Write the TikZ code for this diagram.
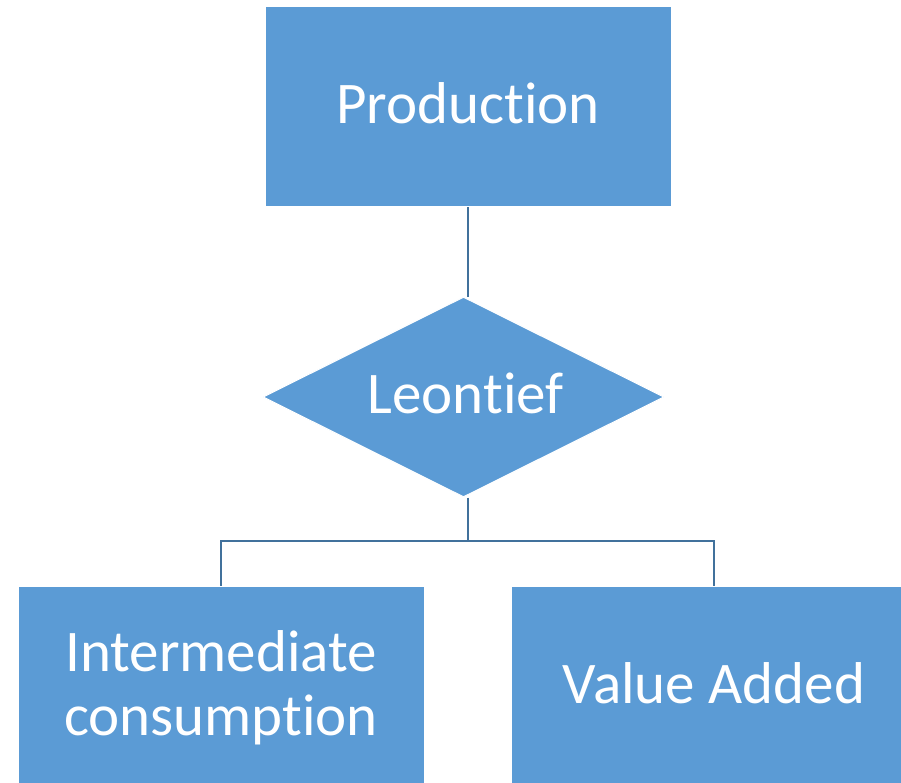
\documentclass[tikz,border=0pt]{standalone}
\usepackage{fontspec}
\setmainfont[RawFeature={-liga}]{Carlito}
\usetikzlibrary{shapes.geometric}
\definecolor{boxblue}{HTML}{5B9BD5}
\definecolor{linkblue}{HTML}{41719C}
\tikzset{
  block/.style={rectangle, fill=boxblue, draw=white, line width=1pt, inner sep=0pt,
    minimum width=406pt, minimum height=200pt},
  decision/.style={diamond, fill=boxblue, draw=white, line width=1pt, inner sep=0pt,
    minimum width=401pt, minimum height=200pt},
  label text/.style={text=white, font=\fontsize{59}{64}\selectfont, inner sep=0pt, anchor=base},
  link/.style={draw=linkblue, line width=2.2pt}
}
\begin{document}
\begin{tikzpicture}[x=1pt, y=-1pt]
  \clip (0,0) rectangle (901,783);
  \fill[white] (0,0) rectangle (901,783);

  % shapes
  \node[block] (prod) at (468,107) {};
  \node[decision] (leon) at (463.5,397) {};
  \node[block] (ic) at (221,686) {};
  \node[block] (va) at (714,686) {};

  % texts
  \node[label text] (prodtext) at (468,124) {Production};
  \node[label text] (leontext) at (465.5,413) {Leontief};
  \node[label text] (ictext1) at (221,671) {Intermediate};
  \node[label text] (ictext2) at (221,735) {consumption};
  \node[label text] (vatext) at (714,703) {Value Added};

  % connectors
  \coordinate (fork) at (468,541);
  \draw[link] (prod.south) -- (prod.south |- leon.north);
  \draw[link] (fork |- leon.south) -- (fork);
  \draw[link] (ic.north) |- (fork) -| (va.north);
\end{tikzpicture}
\end{document}
